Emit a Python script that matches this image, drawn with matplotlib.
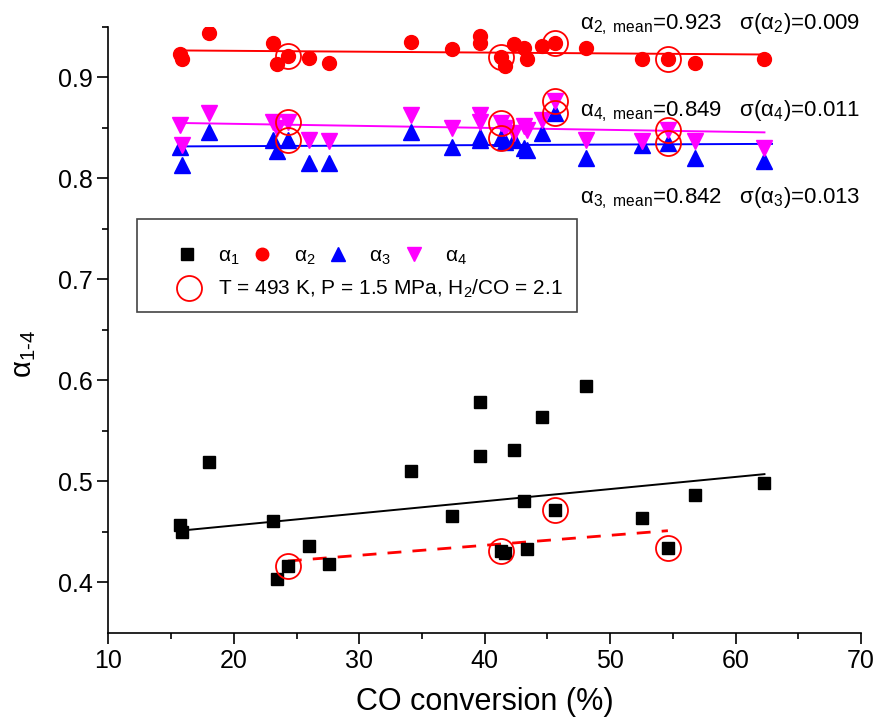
import numpy as np
import matplotlib
matplotlib.use("Agg")
import matplotlib.pyplot as plt
from matplotlib.lines import Line2D
from matplotlib.patches import Rectangle

plt.rcParams['font.family'] = ['Liberation Sans', 'DejaVu Sans']
plt.rcParams['mathtext.fontset'] = 'custom'
plt.rcParams['mathtext.rm'] = 'Liberation Sans'
plt.rcParams['mathtext.it'] = 'Liberation Sans:italic'

# CO conversion (%) of each run
conv = [15.7, 15.9, 18.0, 23.1, 23.4, 24.3, 26.0, 27.6, 34.1, 37.4, 39.6, 39.6,
        41.3, 41.6, 42.3, 43.1, 43.4, 44.6, 45.6, 48.1, 52.5, 54.6, 56.8, 62.3]

alpha1 = [0.457, 0.450, 0.519, 0.461, 0.403, 0.416, 0.436, 0.418, 0.510, 0.466, 0.578, 0.525,
          0.431, 0.429, 0.531, 0.480, 0.433, 0.564, 0.471, 0.594, 0.464, 0.434, 0.486, 0.498]
alpha2 = [0.923, 0.918, 0.944, 0.934, 0.913, 0.921, 0.919, 0.914, 0.935, 0.928, 0.941, 0.934,
          0.920, 0.911, 0.933, 0.929, 0.918, 0.931, 0.934, 0.929, 0.918, 0.918, 0.914, 0.918]
alpha3 = [0.831, 0.813, 0.846, 0.838, 0.827, 0.838, 0.815, 0.815, 0.846, 0.831, 0.838, 0.841,
          0.840, 0.836, 0.838, 0.830, 0.828, 0.845, 0.865, 0.820, 0.833, 0.835, 0.820, 0.817]
alpha4 = [0.853, 0.833, 0.865, 0.856, 0.850, 0.856, 0.838, 0.837, 0.863, 0.850, 0.863, 0.856,
          0.855, 0.850, 0.845, 0.852, 0.848, 0.858, 0.876, 0.838, 0.837, 0.848, 0.837, 0.830]

# runs at T = 493 K, P = 1.5 MPa, H2/CO = 2.1
ref_conv = [24.3, 41.3, 45.6, 54.6]

# linear fits (end points)
fit1_x, fit1_y = [15.7, 62.3], [0.451, 0.507]
fit1ref_x, fit1ref_y = [24.3, 54.6], [0.421, 0.451]
fit2_x, fit2_y = [15.7, 62.3], [0.9265, 0.9225]
fit3_x, fit3_y = [15.7, 62.9], [0.8315, 0.834]
fit4_x, fit4_y = [15.7, 62.3], [0.8547, 0.8454]

stats = [
    ("2", "0.923", "0.009"),
    ("4", "0.849", "0.011"),
    ("3", "0.842", "0.013"),
]
stats_y = [0.947, 0.8613, 0.7755]

conv = np.array(conv)
fig = plt.figure(figsize=(8.77, 7.28), dpi=100)
ax = fig.add_axes([0.1237, 0.1309, 0.8581, 0.8324])

ax.plot(fit1_x, fit1_y, color="black", lw=1.4)
ax.plot(fit1ref_x, fit1ref_y, color="red", lw=2, ls=(0, (5, 4)))
ax.plot(fit2_x, fit2_y, color="red", lw=1.4)
ax.plot(fit3_x, fit3_y, color="blue", lw=1.4)
ax.plot(fit4_x, fit4_y, color="magenta", lw=1.4)

ax.plot(conv, alpha1, "s", color="black", ms=9, ls="none")
ax.plot(conv, alpha2, "o", color="red", ms=10, ls="none")
ax.plot(conv, alpha3, "^", color="blue", ms=11, ls="none")
ax.plot(conv, alpha4, "v", color="magenta", ms=11, ls="none")

mask = np.isin(conv, ref_conv)
for series in [alpha1, alpha2, alpha3, alpha4]:
    ax.plot(conv[mask], np.array(series)[mask], "o", mfc="none", mec="red",
            mew=1.3, ms=18, ls="none")

for (k, mean, sd), yy in zip(stats, stats_y):
    ax.text(47.6, yy, "α$_{%s,\\ \\mathrm{mean}}$=%s   σ(α$_{%s}$)=%s" % (k, mean, k, sd),
            fontsize=16, va="baseline", ha="left", clip_on=False)

ax.set_xlim(10, 70)
ax.set_ylim(0.35, 0.95)
ax.set_xticks(np.arange(10, 71, 10))
ax.set_xticks(np.arange(15, 70, 10), minor=True)
ax.set_yticks([0.4, 0.5, 0.6, 0.7, 0.8, 0.9])
ax.set_yticklabels(["0.4", "0.5", "0.6", "0.7", "0.8", "0.9"])
ax.set_yticks([0.45, 0.55, 0.65, 0.75, 0.85, 0.95], minor=True)
ax.tick_params(which="major", direction="out", length=8, width=1.2, labelsize=18)
ax.tick_params(which="minor", direction="out", length=4.5, width=1.2)
for s in ["top", "right"]:
    ax.spines[s].set_visible(False)
for s in ["left", "bottom"]:
    ax.spines[s].set_linewidth(1.2)

ax.set_xlabel("CO conversion (%)", fontsize=22, labelpad=10)
ax.set_ylabel("α$_{1‐4}$", fontsize=21)
ax.yaxis.set_label_coords(-0.094, 0.46)

# legend: two rows inside one frame
h = [Line2D([], [], marker="s", color="black", ms=8, ls="none"),
     Line2D([], [], marker="o", color="red", ms=9, ls="none"),
     Line2D([], [], marker="^", color="blue", ms=10, ls="none"),
     Line2D([], [], marker="v", color="magenta", ms=10, ls="none")]
leg1 = ax.legend(h, ["α$_1$", "α$_2$", "α$_3$", "α$_4$"], ncol=4, loc="center left",
                 bbox_to_anchor=(0.090, 0.6205), frameon=False, fontsize=15,
                 borderpad=0, borderaxespad=0, handlelength=1, handletextpad=1.0,
                 columnspacing=0.6)
ax.add_artist(leg1)
hc = Line2D([], [], marker="o", mfc="none", mec="red", mew=1.3, ms=18, ls="none")
ax.legend([hc], ["T = 493 K, P = 1.5 MPa, H$_2$/CO = 2.1"], loc="center left",
          bbox_to_anchor=(0.093, 0.567), frameon=False, fontsize=15,
          borderpad=0, borderaxespad=0, handlelength=1, handletextpad=0.9)
ax.add_patch(Rectangle((0.038, 0.529), 0.584, 0.154, transform=ax.transAxes,
                       fill=False, edgecolor="#444444", lw=1.2, zorder=5))

fig.savefig("out.png", dpi=100)
